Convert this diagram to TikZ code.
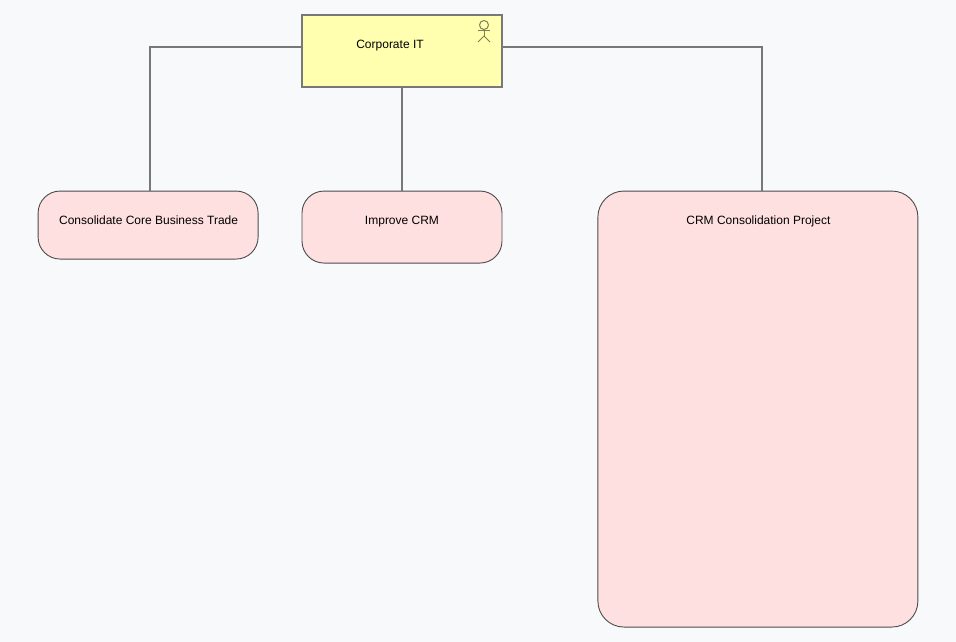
\documentclass[tikz,border=0pt]{standalone}
\usepackage{fontspec}
\setmainfont{Liberation Sans}
\usetikzlibrary{positioning}
\definecolor{canvas}{RGB}{248,249,251}
\definecolor{roleyellow}{RGB}{255,255,175}
\definecolor{goalpink}{RGB}{255,224,224}
\definecolor{linegray}{RGB}{120,120,120}
\tikzset{
	role/.style={
		rectangle,
		draw=linegray,
		fill=roleyellow,
		line width=1.2pt,
		inner sep=0pt,
		minimum width=200pt,
		minimum height=72pt
	},
	goal/.style={
		rectangle,
		rounded corners=22pt,
		draw=black!70,
		fill=goalpink,
		line width=0.9pt,
		inner sep=0pt,
		minimum width=200pt,
		minimum height=72pt
	},
	line/.style={draw=linegray,line width=1.2pt},
	lbl/.style={font=\fontsize{12}{14}\selectfont,inner sep=0pt,text height=9pt,text depth=2pt},
	actor/.style={draw=black!50!roleyellow,line width=1pt}
}

\begin{document}
\begin{tikzpicture}[x=1pt,y=1pt,node distance=103pt and 44pt]
		\useasboundingbox[fill=canvas] (0,0) rectangle (956,-642);
		\node[role] (corp) at (402,-51) {};
		\node[goal,below=of corp] (improve) {};
		\node[goal,left=43pt of improve.north west,anchor=north east,minimum width=220pt,minimum height=68pt] (trade) {};
		\node[goal,right=95pt of improve.north east,anchor=north west,minimum width=320pt,minimum height=436pt,rounded corners=26pt] (project) {};

		\node[lbl,below=24.5pt of corp.north,xshift=-12pt] (corplbl) {Corporate IT};
		\node[lbl,below=24.5pt of trade.north,xshift=0.5pt] (tradelbl) {Consolidate Core Business Trade};
		\node[lbl,below=24.5pt of improve.north] (improvelbl) {Improve CRM};
		\node[lbl,below=24.5pt of project.north,xshift=0.5pt] (projectlbl) {CRM Consolidation Project};

		\coordinate (bendl) at (150,-47);
		\coordinate (bendr) at (762,-47);
		\draw[line] (corp.west |- bendl) -- (bendl) -- (bendl |- trade.north);
		\draw[line] (corp.south) -- (improve.north);
		\draw[line] (corp.east |- bendr) -- (bendr) -- (bendr |- project.north);

		\node[circle,actor,minimum size=9pt,inner sep=0pt] (head) at (484,-25) {};
		\coordinate (hip) at (484,-36);
		\draw[actor] (head.south) -- (hip);
		\draw[actor] (478,-31) -- (490,-31);
		\draw[actor] (478,-42) -- (hip) -- (490,-42);
	\end{tikzpicture}
\end{document}
